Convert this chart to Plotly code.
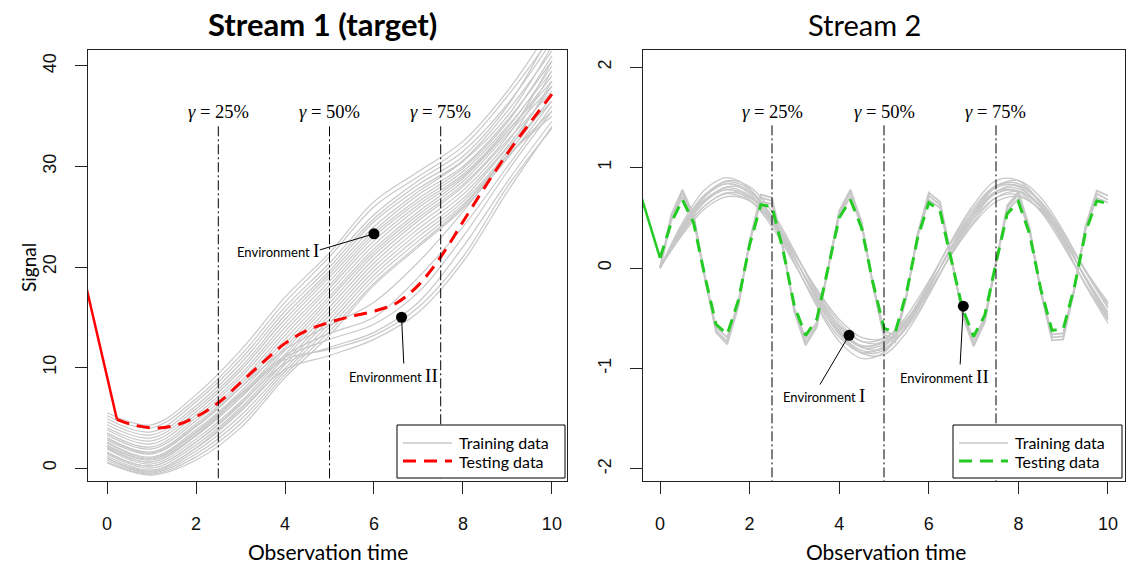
import plotly.graph_objects as go

# ================= DATA =================
# ---- Stream 1 (target) ----
s1_x = [0, 1, 2, 3, 4, 5, 6, 7, 8, 9, 10]
s1_train_env1 = [
    [5.5, 4.3, 7.3, 11.7, 17.0, 21.4, 26.5, 29.5, 32.5, 37.5, 44.0],
    [5.2, 4.0, 6.9, 11.2, 16.5, 21.0, 26.0, 29.0, 32.0, 37.0, 43.0],
    [4.9, 3.6, 6.6, 10.8, 16.0, 20.4, 25.2, 28.6, 31.5, 36.2, 42.5],
    [4.6, 3.3, 6.2, 10.4, 15.6, 20.0, 24.8, 28.2, 31.0, 36.0, 43.5],
    [4.3, 3.0, 5.9, 10.0, 15.2, 19.6, 24.5, 27.8, 30.6, 35.5, 41.5],
    [4.0, 2.7, 5.6, 9.7, 14.8, 19.3, 24.0, 27.5, 30.5, 35.0, 42.0],
    [3.8, 2.4, 5.3, 9.3, 14.4, 19.0, 23.6, 27.2, 30.0, 34.6, 40.5],
    [3.5, 2.1, 5.0, 9.0, 14.0, 18.6, 23.3, 26.8, 29.8, 34.4, 41.0],
    [3.3, 1.9, 4.7, 8.6, 13.6, 18.2, 23.0, 26.5, 29.5, 34.0, 39.5],
    [3.0, 1.6, 4.4, 8.3, 13.2, 17.9, 22.6, 26.2, 29.2, 33.8, 40.0],
    [2.8, 1.4, 4.1, 8.0, 12.8, 17.5, 22.2, 25.9, 29.0, 33.5, 38.5],
    [2.6, 1.1, 3.8, 7.6, 12.4, 17.1, 21.8, 25.5, 28.8, 33.5, 39.0],
    [2.3, 0.9, 3.5, 7.3, 12.0, 16.8, 21.5, 25.2, 28.5, 33.2, 38.0],
    [2.1, 0.6, 3.2, 7.0, 11.7, 16.4, 21.2, 24.9, 28.2, 33.0, 40.5],
    [1.9, 0.4, 2.9, 6.6, 11.3, 16.0, 20.8, 24.6, 28.0, 32.6, 37.5],
    [1.6, 0.2, 2.6, 6.3, 11.0, 15.6, 20.4, 24.2, 27.6, 32.4, 39.5],
    [1.4, 0.0, 2.3, 6.0, 10.6, 15.2, 20.0, 23.8, 27.2, 32.0, 38.0],
    [1.2, -0.2, 2.0, 5.6, 10.3, 14.8, 19.6, 23.4, 26.8, 31.8, 36.5],
    [1.0, -0.4, 1.7, 5.2, 9.9, 14.4, 19.2, 23.0, 26.5, 31.5, 38.5],
    [0.8, -0.5, 1.4, 4.8, 9.6, 14.0, 18.8, 22.6, 26.2, 31.2, 37.0],
    [0.6, -0.6, 1.1, 4.4, 9.3, 13.6, 18.4, 22.2, 26.0, 31.0, 35.5],
    [0.5, -0.7, 0.8, 4.0, 9.0, 13.2, 18.2, 22.0, 25.8, 30.8, 36.5],
]
s1_train_env2 = [
    [2.0, 0.6, 3.2, 7.0, 11.0, 12.8, 14.3, 17.5, 23.0, 29.5, 35.5],
    [1.5, 0.2, 2.6, 6.4, 10.4, 12.0, 13.5, 16.5, 22.0, 28.5, 34.5],
    [2.5, 1.0, 3.6, 7.4, 11.2, 13.4, 15.0, 19.0, 24.0, 30.0, 36.0],
    [1.0, -0.3, 2.0, 5.8, 9.8, 11.2, 12.8, 15.5, 20.5, 27.5, 34.0],
    [3.0, 1.5, 4.2, 8.0, 11.8, 14.2, 16.5, 20.5, 25.5, 31.0, 35.0],
    [2.2, 0.8, 3.3, 7.2, 10.8, 11.8, 13.2, 16.0, 21.0, 28.0, 33.8],
]
s1_test_x = [0.22, 0.5, 1.0, 1.5, 2.0, 2.5, 3.0, 3.5, 4.0, 4.5, 5.0,
             5.5, 6.0, 6.5, 7.0, 7.5, 8.0, 8.5, 9.0, 9.5, 10.0]
s1_test_y = [4.85, 4.4, 4.0, 4.2, 5.1, 6.5, 8.5, 10.5, 12.4, 13.7, 14.5,
             15.1, 15.6, 16.4, 18.2, 21.0, 24.5, 28.0, 31.3, 34.3, 37.2]
s1_lead_x = [-0.5, 0.22]
s1_lead_y = [18.6, 4.85]
s1_env_x = [6.0, 6.62]
s1_env_y = [23.3, 15.0]

# ---- Stream 2 ----
s2_band_x = [0, 0.5, 1, 1.5, 2, 2.5, 3, 3.5, 4, 4.5, 5,
             5.5, 6, 6.5, 7, 7.5, 8, 8.5, 9, 9.5, 10]
s2_train_env1 = [
    [0, .33, .59, .71, .67, .46, .14, -.21, -.51, -.69, -.70, -.53, -.23, .13, .44, .66, .71, .58, .31, -.03, -.34],
    [0, .36, .62, .74, .67, .44, .09, -.27, -.57, -.73, -.70, -.51, -.18, .18, .49, .70, .73, .57, .27, -.09, -.44],
    [0, .35, .62, .75, .70, .48, .15, -.22, -.54, -.73, -.74, -.56, -.24, .13, .46, .70, .76, .62, .34, -.02, -.36],
    [0, .40, .68, .78, .68, .41, .04, -.34, -.64, -.78, -.72, -.48, -.13, .25, .56, .76, .76, .56, .22, -.16, -.50],
    [0, .39, .68, .80, .72, .47, .10, -.29, -.62, -.79, -.76, -.55, -.20, .20, .53, .76, .79, .62, .29, -.10, -.47],
    [0, .37, .66, .81, .76, .52, .16, -.24, -.58, -.79, -.80, -.60, -.26, .14, .49, .76, .82, .66, .35, -.03, -.38],
    [0, .43, .73, .84, .74, .45, .05, -.36, -.69, -.84, -.78, -.53, -.15, .26, .60, .82, .81, .60, .24, -.17, -.52],
    [0, .41, .73, .86, .78, .51, .11, -.32, -.66, -.84, -.82, -.59, -.21, .21, .57, .82, .84, .66, .32, -.11, -.51],
    [0, .39, .71, .87, .81, .56, .17, -.26, -.63, -.85, -.86, -.64, -.27, .15, .53, .81, .87, .70, .37, -.04, -.40],
    [0, .45, .78, .90, .79, .48, .06, -.38, -.73, -.90, -.84, -.57, -.16, .27, .63, .87, .87, .64, .26, -.17, -.55],
    [0, .40, .71, .84, .76, .49, .11, -.31, -.65, -.82, -.80, -.58, -.21, .21, .56, .80, .82, .65, .31, -.11, -.49],
    [0, .38, .66, .78, .71, .46, .10, -.29, -.60, -.77, -.74, -.53, -.19, .19, .52, .74, .77, .60, .29, -.10, -.46],
]
s2_zig_x = [0, 0.25, 0.5, 0.75, 1, 1.25, 1.5, 1.75, 2, 2.25, 2.5, 2.75, 3, 3.25,
            3.5, 3.75, 4, 4.25, 4.5, 4.75, 5, 5.25, 5.5, 5.75, 6, 6.25, 6.5,
            6.75, 7, 7.25, 7.5, 7.75, 8, 8.25, 8.5, 8.75, 9, 9.25, 9.5, 9.75, 10]
s2_train_env2 = [
    [0, .50, .75, .50, -.09, -.62, -.73, -.36, .26, .70, .67, .19, -.42, -.74, -.57, -.01, .55, .75, .44, -.16, -.66, -.71, -.28, .33, .72, .63, .11, -.45, -.75, -.52, .06, .60, .73, .38, -.23, -.69, -.68, -.21, .40, .74, .68],
    [0, .53, .78, .53, -.08, -.64, -.76, -.38, .27, .73, .70, .20, -.44, -.77, -.59, -.02, .57, .78, .46, -.17, -.69, -.74, -.29, .34, .75, .66, .12, -.47, -.78, -.54, .06, .62, .76, .40, -.24, -.72, -.71, -.22, .42, .77, .72],
    [0, .47, .71, .47, -.09, -.59, -.69, -.34, .25, .66, .64, .18, -.40, -.70, -.54, -.01, .52, .71, .42, -.15, -.63, -.67, -.27, .31, .68, .60, .10, -.43, -.71, -.49, .06, .57, .69, .36, -.22, -.66, -.65, -.20, .38, .70, .65],
]
s2_test_y = [0.10, .45, .68, .45, -.08, -.56, -.66, -.32, .23, .63, .61, .17, -.38, -.67, -.51, -.01, .50, .68, .40, -.14, -.60, -.64, -.25, .30, .65, .57, .10, -.40, -.68, -.47, .05, .54, .66, .34, -.21, -.62, -.61, -.19, .36, .67, .64]
s2_lead_x = [-0.5, 0.0]
s2_lead_y = [0.83, 0.10]
s2_env_x = [4.22, 6.77]
s2_env_y = [-0.67, -0.38]

gamma_x = [2.5, 5.0, 7.5]
gamma_labels = ["25%", "50%", "75%"]
x_ticks = [0, 2, 4, 6, 8, 10]
s1_y_ticks = [0, 10, 20, 30, 40]
s2_y_ticks = [-2, -1, 0, 1, 2]
s2_y_ticktext = ["-2", "-1", "0", "1", "2"]
legend_labels = ["Training data", "Testing data"]

# ================= STYLE =================
GRAY = "#c8c8c8"
RED = "#ff0000"
GREEN = "#22cc22"
SANS = "Lato"
TICKF = "Liberation Sans"
SERIF = "Liberation Serif"
W, H = 1140, 570


def px(X):
    return X / W


def py(Y):
    return 1 - Y / H


fig = go.Figure()

# ---- Stream 1 traces ----
for curve in s1_train_env1 + s1_train_env2:
    fig.add_trace(go.Scatter(x=s1_x, y=curve, mode="lines",
                             line=dict(color=GRAY, width=1.2, shape="spline"),
                             showlegend=False, xaxis="x", yaxis="y", hoverinfo="skip"))
fig.add_trace(go.Scatter(x=s1_lead_x, y=s1_lead_y, mode="lines",
                         line=dict(color=RED, width=2.5), showlegend=False,
                         xaxis="x", yaxis="y"))
fig.add_trace(go.Scatter(x=s1_test_x, y=s1_test_y, mode="lines",
                         line=dict(color=RED, width=3, dash="13px,8px", shape="spline"),
                         showlegend=False, xaxis="x", yaxis="y"))
fig.add_trace(go.Scatter(x=s1_env_x, y=s1_env_y, mode="markers",
                         marker=dict(color="black", size=11), showlegend=False,
                         xaxis="x", yaxis="y"))

# ---- Stream 2 traces ----
for curve in s2_train_env1:
    fig.add_trace(go.Scatter(x=s2_band_x, y=curve, mode="lines",
                             line=dict(color=GRAY, width=1.3, shape="spline"),
                             showlegend=False, xaxis="x2", yaxis="y2", hoverinfo="skip"))
for curve in s2_train_env2:
    fig.add_trace(go.Scatter(x=s2_zig_x, y=curve, mode="lines",
                             line=dict(color=GRAY, width=1.8),
                             showlegend=False, xaxis="x2", yaxis="y2",
                             hoverinfo="skip"))
fig.add_trace(go.Scatter(x=s2_lead_x, y=s2_lead_y, mode="lines",
                         line=dict(color=GREEN, width=2.5), showlegend=False,
                         xaxis="x2", yaxis="y2"))
fig.add_trace(go.Scatter(x=s2_zig_x, y=s2_test_y, mode="lines",
                         line=dict(color=GREEN, width=3, dash="13px,8px"),
                         showlegend=False, xaxis="x2", yaxis="y2"))
fig.add_trace(go.Scatter(x=s2_env_x, y=s2_env_y, mode="markers",
                         marker=dict(color="black", size=11), showlegend=False,
                         xaxis="x2", yaxis="y2"))

# ---- shapes: gamma lines & connectors ----
shapes = []
for gx in gamma_x:
    shapes.append(dict(type="line", xref="x", yref="y", x0=gx, x1=gx, y0=34.0, y1=-1.3,
                       line=dict(color="black", width=1, dash="10px,3px,2px,3px")))
    shapes.append(dict(type="line", xref="x2", yref="y2", x0=gx, x1=gx, y0=1.42, y1=-2.13,
                       line=dict(color="black", width=1, dash="10px,3px,2px,3px")))
shapes += [
    dict(type="line", xref="x", yref="y", x0=4.78, y0=21.7, x1=s1_env_x[0], y1=s1_env_y[0],
         line=dict(color="black", width=1)),
    dict(type="line", xref="x", yref="y", x0=s1_env_x[1], y0=s1_env_y[1], x1=6.67, y1=10.4,
         line=dict(color="black", width=1)),
    dict(type="line", xref="x2", yref="y2", x0=s2_env_x[0], y0=s2_env_y[0], x1=3.57, y1=-1.16,
         line=dict(color="black", width=1)),
    dict(type="line", xref="x2", yref="y2", x0=s2_env_x[1], y0=s2_env_y[1], x1=6.70, y1=-0.96,
         line=dict(color="black", width=1)),
]

# ---- legends (drawn as boxes with sample lines and labels) ----
ann = []
for (bx0, bx1, test_col) in [(397, 565, RED), (953, 1122, GREEN)]:
    shapes.append(dict(type="rect", xref="paper", yref="paper",
                       x0=px(bx0), x1=px(bx1), y0=py(478), y1=py(425),
                       line=dict(color="black", width=1), fillcolor="white", layer="above"))
    shapes.append(dict(type="line", xref="paper", yref="paper",
                       x0=px(bx0 + 6), x1=px(bx0 + 55), y0=py(443), y1=py(443),
                       line=dict(color=GRAY, width=1.5), layer="above"))
    shapes.append(dict(type="line", xref="paper", yref="paper",
                       x0=px(bx0 + 6), x1=px(bx0 + 55), y0=py(461), y1=py(461),
                       line=dict(color=test_col, width=3, dash="13px,8px"), layer="above"))
    for lab, Y in zip(legend_labels, [442, 461]):
        ann.append(dict(x=px(bx0 + 60), y=py(Y), xref="paper", yref="paper",
                        xanchor="left", yanchor="middle", showarrow=False, text=lab,
                        font=dict(family=SANS, size=16, color="black")))

# ---- annotations ----
for gx, gl in zip(gamma_x, gamma_labels):
    ann.append(dict(x=gx, y=35.4, xref="x", yref="y", showarrow=False,
                    xanchor="center", yanchor="middle",
                    text="<i>γ</i> = " + gl, font=dict(family=SERIF, size=18.5, color="black")))
    ann.append(dict(x=gx, y=1.55, xref="x2", yref="y2", showarrow=False,
                    xanchor="center", yanchor="middle",
                    text="<i>γ</i> = " + gl, font=dict(family=SERIF, size=18.5, color="black")))


def env(txt):
    return ("Environment <span style='font-family:Liberation Serif;font-size:19px'>"
            + txt + "</span>")


ann += [
    dict(x=4.80, y=21.6, xref="x", yref="y", xanchor="right", yanchor="middle",
         showarrow=False, text=env("I"), font=dict(family=SANS, size=13, color="black")),
    dict(x=6.43, y=9.25, xref="x", yref="y", xanchor="center", yanchor="middle",
         showarrow=False, text=env("II"), font=dict(family=SANS, size=13, color="black")),
    dict(x=3.65, y=-1.27, xref="x2", yref="y2", xanchor="center", yanchor="middle",
         showarrow=False, text=env("I"), font=dict(family=SANS, size=13, color="black")),
    dict(x=6.36, y=-1.08, xref="x2", yref="y2", xanchor="center", yanchor="middle",
         showarrow=False, text=env("II"), font=dict(family=SANS, size=13, color="black")),
    # titles
    dict(x=px(322), y=py(24), xref="paper", yref="paper", xanchor="center", yanchor="middle",
         showarrow=False, text="<b>Stream 1 (target)</b>",
         font=dict(family=SANS, size=31, color="black")),
    dict(x=px(864), y=py(24), xref="paper", yref="paper", xanchor="center", yanchor="middle",
         showarrow=False, text="Stream 2", font=dict(family=SANS, size=29, color="black")),
    # axis titles
    dict(x=px(328), y=py(551), xref="paper", yref="paper", xanchor="center", yanchor="middle",
         showarrow=False, text="Observation time", font=dict(family=SANS, size=21, color="black")),
    dict(x=px(886), y=py(551), xref="paper", yref="paper", xanchor="center", yanchor="middle",
         showarrow=False, text="Observation time", font=dict(family=SANS, size=21, color="black")),
    dict(x=px(28), y=py(268), xref="paper", yref="paper", xanchor="center", yanchor="middle",
         showarrow=False, text="Signal", textangle=-90,
         font=dict(family=SANS, size=19, color="black")),
]

axis_common = dict(showline=True, mirror=True, linecolor="#222", linewidth=1.2,
                   ticks="outside", ticklen=12, tickcolor="#222", tickwidth=1.2,
                   showgrid=False, zeroline=False,
                   tickfont=dict(family=TICKF, size=18, color="#111"))

yd = [py(481), py(50)]
fig.update_layout(
    width=W, height=H,
    margin=dict(l=0, r=0, t=0, b=0),
    paper_bgcolor="white", plot_bgcolor="white",
    xaxis=dict(domain=[px(88), px(567)], range=[-0.43, 10.34], anchor="y",
               tickvals=x_ticks, ticklabelstandoff=14, **axis_common),
    yaxis=dict(domain=yd, range=[-1.29, 41.59], anchor="x", tickangle=-90,
               tickvals=s1_y_ticks, ticklabelstandoff=12, **axis_common),
    xaxis2=dict(domain=[px(643), px(1125)], range=[-0.38, 10.38], anchor="y2",
                tickvals=x_ticks, ticklabelstandoff=14, **axis_common),
    yaxis2=dict(domain=yd, range=[-2.12, 2.17], anchor="x2", tickangle=-90,
                tickvals=s2_y_ticks, ticktext=s2_y_ticktext, ticklabelstandoff=12,
                **axis_common),
    shapes=shapes,
    annotations=ann,
    showlegend=False,
)

fig.write_html("out.html")
